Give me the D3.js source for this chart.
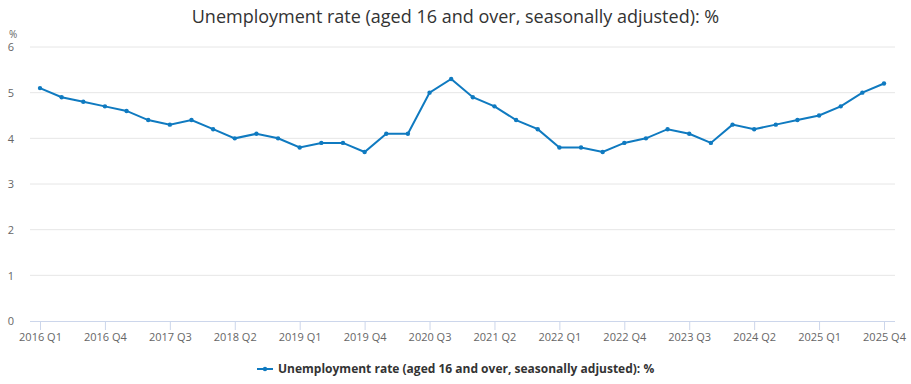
<!DOCTYPE html>
<html>
<head>
<meta charset="utf-8">
<script src="https://cdn.jsdelivr.net/npm/d3@7"></script>
<style>
  body { margin: 0; background: #fff; font-family: "Open Sans", sans-serif; }
</style>
</head>
<body>
<div id="vis"></div>
<script>
// quarters 2016 Q1 .. 2025 Q4
var years = [2016, 2017, 2018, 2019, 2020, 2021, 2022, 2023, 2024, 2025];
var quarters = ["Q1", "Q2", "Q3", "Q4"];
var rates = [
  5.1, 4.9, 4.8, 4.7,
  4.6, 4.4, 4.3, 4.4,
  4.2, 4.0, 4.1, 4.0,
  3.8, 3.9, 3.9, 3.7,
  4.1, 4.1, 5.0, 5.3,
  4.9, 4.7, 4.4, 4.2,
  3.8, 3.8, 3.7, 3.9,
  4.0, 4.2, 4.1, 3.9,
  4.3, 4.2, 4.3, 4.4,
  4.5, 4.7, 5.0, 5.2
];
var yTicks = [0, 1, 2, 3, 4, 5, 6];
var title = "Unemployment rate (aged 16 and over, seasonally adjusted): %";

var labels = [];
years.forEach(function(y) {
  quarters.forEach(function(q) { labels.push(y + " " + q); });
});
var data = labels.map(function(l, i) { return { label: l, value: rates[i] }; });

var width = 911, height = 384;
var svg = d3.select("#vis").append("svg")
  .attr("width", width)
  .attr("height", height);

var x = d3.scalePoint().domain(labels).range([40, 884]);
var y = d3.scaleLinear().domain([0, 6]).range([321, 47]);

// title
svg.append("text")
  .attr("x", width / 2)
  .attr("y", 23)
  .attr("text-anchor", "middle")
  .attr("font-size", 18)
  .attr("fill", "#333")
  .text(title);

// grid lines
svg.selectAll(".grid")
  .data(yTicks.filter(function(d) { return d > 0; }))
  .enter().append("line")
  .attr("x1", 30).attr("x2", 895)
  .attr("y1", function(d) { return y(d); })
  .attr("y2", function(d) { return y(d); })
  .attr("stroke", "#e6e6e6")
  .attr("stroke-width", 1);

// y axis labels
var yAxis = d3.axisLeft(y).tickValues(yTicks).tickFormat(d3.format("d")).tickSize(0).tickPadding(0);
var gy = svg.append("g").attr("transform", "translate(14,0)").call(yAxis);
gy.select(".domain").remove();
gy.selectAll("text").attr("font-size", 11).attr("fill", "#666")
  .attr("font-family", "Open Sans, sans-serif").attr("dy", "0.35em");

svg.append("text")
  .attr("x", 9).attr("y", 38)
  .attr("font-size", 10).attr("fill", "#666")
  .text("%");

// x axis
var xTickVals = labels.filter(function(d, i) { return i % 3 === 0; });
var xAxis = d3.axisBottom(x).tickValues(xTickVals).tickSize(9).tickPadding(3).tickSizeOuter(0);
var gx = svg.append("g").attr("transform", "translate(0,321)").call(xAxis);
gx.select(".domain").attr("d", "M30,0.5H895").attr("stroke", "#ccd6eb");
gx.selectAll(".tick line").attr("stroke", "#ccd6eb");
gx.selectAll("text").attr("font-size", 11).attr("fill", "#666")
  .attr("font-family", "Open Sans, sans-serif");

// line
var line = d3.line()
  .x(function(d) { return x(d.label); })
  .y(function(d) { return y(d.value); });

svg.append("path")
  .datum(data)
  .attr("d", line)
  .attr("fill", "none")
  .attr("stroke", "#0f7ac0")
  .attr("stroke-width", 2);

svg.selectAll(".dot")
  .data(data)
  .enter().append("circle")
  .attr("cx", function(d) { return x(d.label); })
  .attr("cy", function(d) { return y(d.value); })
  .attr("r", 2.2)
  .attr("fill", "#0f7ac0");

// legend
var legend = svg.append("g").attr("transform", "translate(257,369)");
legend.append("line")
  .attr("x1", 0).attr("x2", 16).attr("y1", 0).attr("y2", 0)
  .attr("stroke", "#0f7ac0").attr("stroke-width", 2);
legend.append("circle").attr("cx", 8).attr("cy", 0).attr("r", 2.2).attr("fill", "#0f7ac0");
legend.append("text")
  .attr("x", 21).attr("y", 4)
  .attr("font-size", 12).attr("font-weight", "bold").attr("fill", "#333")
  .text(title);
</script>
</body>
</html>
